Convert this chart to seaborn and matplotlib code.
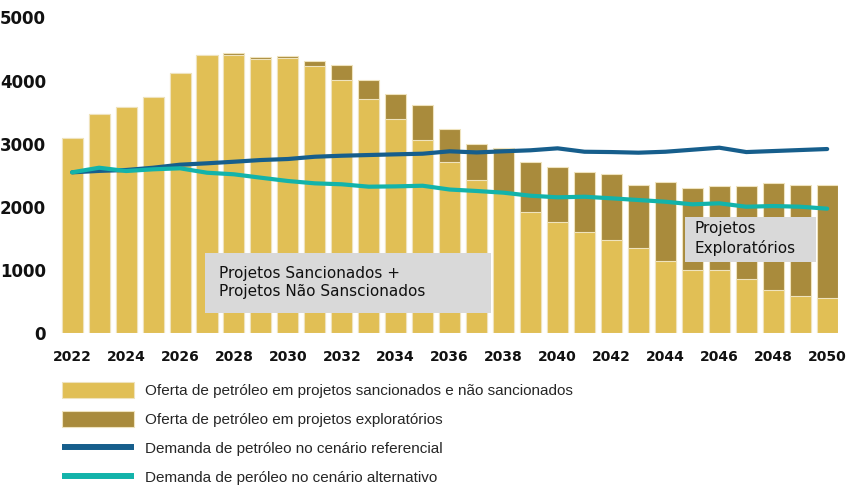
import seaborn as sns
import matplotlib
matplotlib.use("Agg")
import matplotlib.pyplot as plt
from matplotlib.patches import Patch, Rectangle
from matplotlib.lines import Line2D
import pandas as pd

# data (mil barris por dia)
years = list(range(2022, 2051))
sancionados = [3085, 3470, 3585, 3734, 4114, 4403, 4403, 4340, 4351, 4234,
               4013, 3707, 3386, 3058, 2710, 2426, 2240, 1915, 1761, 1598,
               1481, 1345, 1149, 997, 1002, 859, 685, 595, 554]
oferta_total = [3085, 3470, 3585, 3734, 4114, 4403, 4440, 4377, 4383, 4308,
                4240, 4003, 3786, 3617, 3237, 2995, 2927, 2715, 2627, 2547,
                2525, 2351, 2394, 2304, 2335, 2326, 2378, 2342, 2342]
demanda_ref = [2547, 2570, 2584, 2620, 2668, 2690, 2715, 2742, 2758, 2794,
               2810, 2821, 2832, 2842, 2880, 2862, 2880, 2896, 2927, 2873,
               2868, 2858, 2873, 2905, 2937, 2868, 2884, 2900, 2916]
demanda_alt = [2547, 2620, 2568, 2595, 2611, 2541, 2516, 2462, 2410, 2373,
               2358, 2320, 2325, 2335, 2275, 2252, 2225, 2177, 2152, 2161,
               2136, 2109, 2082, 2041, 2057, 2003, 2014, 2003, 1972]

df = pd.DataFrame({"ano": years, "sanc": sancionados, "total": oferta_total,
                   "ref": demanda_ref, "alt": demanda_alt})

YELLOW = "#E1BF55"
BROWN = "#A98B3C"
BLUE = "#165E8C"
CYAN = "#13B3AA"
BOXGREY = "#D9D9D9"
EDGE = "#efe3bd"

sns.set_style("white")
plt.rcParams["font.family"] = ["DejaVu Sans"]

fig = plt.figure(figsize=(8.49, 4.88), dpi=100)
ax = fig.add_axes([0.0723, 0.317, 0.9147, 0.6475])

# stacked bars: total (exploratorio) behind, sancionado in front
sns.barplot(data=df, x="ano", y="total", native_scale=True, color=BROWN,
            saturation=1, width=0.78, edgecolor=EDGE, linewidth=0.8, ax=ax, zorder=2)
sns.barplot(data=df, x="ano", y="sanc", native_scale=True, color=YELLOW,
            saturation=1, width=0.78, edgecolor=EDGE, linewidth=0.8, ax=ax, zorder=3)

# annotation boxes
ax.add_patch(Rectangle((0.1849, 0.0633), 0.3683, 0.1907, transform=ax.transAxes,
                       facecolor=BOXGREY, edgecolor="none", zorder=4))
ax.text(0.2029, 0.161, "Projetos Sancionados +\nProjetos Não Sanscionados",
        transform=ax.transAxes, fontsize=11, va="center", ha="left",
        linespacing=1.26, color="#111111", zorder=5)
ax.add_patch(Rectangle((0.8034, 0.2266), 0.1683, 0.1404, transform=ax.transAxes,
                       facecolor=BOXGREY, edgecolor="none", zorder=4))
ax.text(0.8159, 0.2994, "Projetos\nExploratórios",
        transform=ax.transAxes, fontsize=11, va="center", ha="left",
        linespacing=1.3, color="#111111", zorder=5)

# demand lines
sns.lineplot(data=df, x="ano", y="ref", color=BLUE, lw=3, ax=ax, zorder=6)
sns.lineplot(data=df, x="ano", y="alt", color=CYAN, lw=3, ax=ax, zorder=7)

ax.set_xlim(2021.6, 2050.4)
ax.set_ylim(0, 5000)
ax.set_xticks(list(range(2022, 2051, 2)))
ax.set_yticks([0, 1000, 2000, 3000, 4000, 5000])
ax.set_xlabel("")
ax.set_ylabel("")
ax.tick_params(axis="x", length=0, pad=12, labelsize=10)
ax.tick_params(axis="y", length=0, pad=11, labelsize=12)
for lab in ax.get_xticklabels() + ax.get_yticklabels():
    lab.set_fontweight("bold")
    lab.set_color("#111111")
for s in ax.spines.values():
    s.set_visible(False)

handles = [
    Patch(facecolor=YELLOW, edgecolor=EDGE, linewidth=0.8),
    Patch(facecolor=BROWN, edgecolor=EDGE, linewidth=0.8),
    Line2D([], [], color=BLUE, lw=4.3, solid_capstyle="butt"),
    Line2D([], [], color=CYAN, lw=4.3, solid_capstyle="butt"),
]
labels = [
    "Oferta de petróleo em projetos sancionados e não sancionados",
    "Oferta de petróleo em projetos exploratórios",
    "Demanda de petróleo no cenário referencial",
    "Demanda de peróleo no cenário alternativo",
]
fig.legend(handles, labels, loc="upper left", bbox_to_anchor=(62 / 849, 1 - 382 / 488),
           frameon=False, borderpad=0, borderaxespad=0, handlelength=4.7,
           handleheight=1.2, handletextpad=0.72, labelspacing=0.86,
           prop={"family": "Liberation Sans", "size": 11})

fig.savefig("out.png", dpi=100)
